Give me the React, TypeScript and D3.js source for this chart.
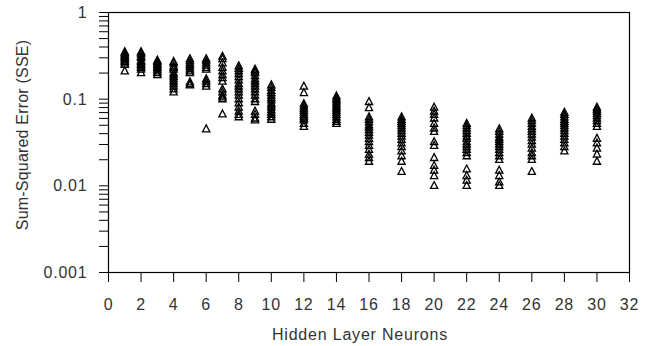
import React from "react";
import * as d3 from "d3";

// hidden layer sizes that were tried
const neurons = [1, 2, 3, 4, 5, 6, 7, 8, 9, 10, 12, 14, 16, 18, 20, 22, 24, 26, 28, 30];

// SSE of each training run, one list per hidden layer size (same order as neurons)
const sseRuns: number[][] = [
  [0.35, 0.34, 0.33, 0.32, 0.31, 0.3, 0.29, 0.28, 0.27, 0.26, 0.25, 0.21],
  [0.35, 0.34, 0.33, 0.31, 0.3, 0.28, 0.27, 0.26, 0.25, 0.24, 0.23, 0.22, 0.2],
  [0.28, 0.27, 0.26, 0.25, 0.24, 0.23, 0.22, 0.21, 0.2, 0.19],
  [0.27, 0.26, 0.24, 0.23, 0.22, 0.2, 0.19, 0.18, 0.17, 0.16, 0.15, 0.14, 0.13, 0.12],
  [0.29, 0.275, 0.26, 0.248, 0.235, 0.222, 0.21, 0.2, 0.157, 0.149, 0.145],
  [0.29, 0.275, 0.26, 0.245, 0.23, 0.22, 0.17, 0.16, 0.15, 0.14, 0.045],
  [0.31, 0.29, 0.26, 0.23, 0.21, 0.19, 0.175, 0.16, 0.13, 0.12, 0.11, 0.105, 0.1, 0.067],
  [0.24, 0.225, 0.21, 0.195, 0.18, 0.165, 0.15, 0.14, 0.13, 0.12, 0.11, 0.1, 0.09, 0.08, 0.072, 0.066, 0.062],
  [0.22, 0.21, 0.2, 0.185, 0.17, 0.16, 0.15, 0.14, 0.13, 0.12, 0.11, 0.1, 0.093, 0.072, 0.066, 0.06, 0.057],
  [0.145, 0.135, 0.125, 0.118, 0.11, 0.103, 0.097, 0.09, 0.085, 0.08, 0.075, 0.07, 0.066, 0.062, 0.058],
  [0.14, 0.118, 0.088, 0.083, 0.078, 0.074, 0.07, 0.066, 0.063, 0.06, 0.057, 0.052, 0.048],
  [0.108, 0.102, 0.097, 0.092, 0.087, 0.082, 0.078, 0.074, 0.07, 0.066, 0.062, 0.058, 0.055, 0.052],
  [0.093, 0.079, 0.062, 0.058, 0.054, 0.05, 0.047, 0.044, 0.041, 0.038, 0.035, 0.032, 0.029, 0.026, 0.023, 0.021, 0.019],
  [0.062, 0.058, 0.055, 0.052, 0.049, 0.046, 0.043, 0.04, 0.037, 0.034, 0.031, 0.028, 0.025, 0.022, 0.019, 0.0145],
  [0.08, 0.072, 0.066, 0.06, 0.052, 0.046, 0.042, 0.032, 0.029, 0.021, 0.017, 0.015, 0.013, 0.01],
  [0.052, 0.049, 0.046, 0.043, 0.04, 0.037, 0.035, 0.032, 0.03, 0.028, 0.026, 0.024, 0.022, 0.0155, 0.013, 0.0115, 0.01],
  [0.045, 0.042, 0.039, 0.036, 0.034, 0.032, 0.03, 0.028, 0.026, 0.024, 0.022, 0.02, 0.015, 0.013, 0.011, 0.01],
  [0.06, 0.056, 0.052, 0.048, 0.045, 0.042, 0.039, 0.036, 0.033, 0.03, 0.027, 0.024, 0.022, 0.02, 0.0145],
  [0.07, 0.066, 0.062, 0.058, 0.055, 0.052, 0.049, 0.046, 0.043, 0.04, 0.037, 0.034, 0.031, 0.028, 0.025],
  [0.08, 0.076, 0.072, 0.068, 0.064, 0.06, 0.056, 0.052, 0.048, 0.035, 0.031, 0.027, 0.023, 0.019],
];

const xTicks = [0, 2, 4, 6, 8, 10, 12, 14, 16, 18, 20, 22, 24, 26, 28, 30, 32];
const yTicks = [0.001, 0.01, 0.1, 1];
const yTickLabels = ["0.001", "0.01", "0.1", "1"];

const W = 652;
const H = 346;
const left = 108.5;
const right = 629.5;
const top = 12.5;
const bottom = 272.5;

const font = "Arial, 'Liberation Sans', sans-serif";
const tri = "M0,-4.3L3.6,2.6L-3.6,2.6Z";

export default function App() {
  const x = d3.scaleLinear().domain([0, 32]).range([left, right]);
  const y = d3.scaleLog().domain([0.001, 1]).range([bottom, top]);

  const points = neurons.flatMap((n, i) => sseRuns[i].map((v) => ({ n, v })));

  return (
    <svg
      width={W}
      height={H}
      style={{ position: "absolute", left: 0, top: 0, background: "#fff" }}
      fontFamily={font}
    >
      {/* frame */}
      <rect x={left} y={top} width={right - left} height={bottom - top} fill="none" stroke="#000" strokeWidth={1.2} />

      {/* y ticks, major and minor */}
      {y.ticks().map((t, i) => (
        <line key={"yt" + i} x1={left - 9.5} x2={left} y1={y(t)} y2={y(t)} stroke="#000" strokeWidth={1} />
      ))}
      {yTicks.map((t, i) => (
        <text
          key={"yl" + i}
          x={87.5}
          y={y(t)}
          textAnchor="end"
          dominantBaseline="central"
          fontSize={16}
          letterSpacing={0.8}
          fill="#333"
        >
          {yTickLabels[i]}
        </text>
      ))}

      {/* x ticks */}
      {xTicks.map((t) => (
        <g key={"xt" + t}>
          <line x1={x(t)} x2={x(t)} y1={bottom} y2={bottom + 9.5} stroke="#000" strokeWidth={1} />
          <text x={x(t)} y={309.5} textAnchor="middle" fontSize={16} letterSpacing={0.8} fill="#333">
            {t}
          </text>
        </g>
      ))}

      {/* axis titles */}
      <text x={360} y={339.5} textAnchor="middle" fontSize={16} letterSpacing={0.8} fill="#333">
        Hidden Layer Neurons
      </text>
      <text
        transform="translate(27.5,135) rotate(-90)"
        textAnchor="middle"
        fontSize={16}
        letterSpacing={0.2}
        fill="#333"
      >
        Sum-Squared Error (SSE)
      </text>

      {/* runs */}
      {points.map((d, i) => (
        <path
          key={"p" + i}
          d={tri}
          transform={`translate(${x(d.n)},${y(d.v)})`}
          fill="none"
          stroke="#000"
          strokeWidth={1.3}
        />
      ))}
    </svg>
  );
}
